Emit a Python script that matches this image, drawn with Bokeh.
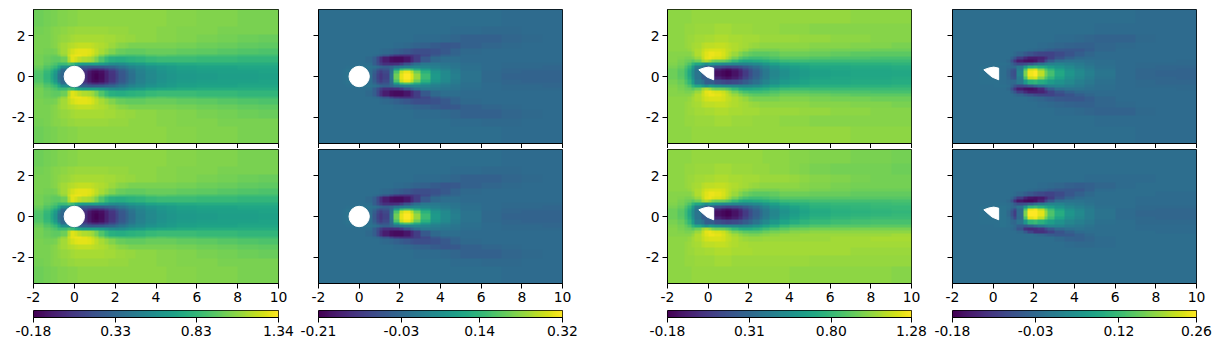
from bokeh.embed import file_html
from bokeh.resources import INLINE
from bokeh.plotting import figure
from bokeh.layouts import column, row
from bokeh.models import Range1d, FixedTicker, LinearColorMapper
from bokeh.palettes import Viridis256
import numpy as np

x_edges = [-2,-1.5,-1.2,-1,-.8,-.6,-.4,-.2,0,.2,.4,.6,.8,1,1.25,1.5,1.75,2,2.25,2.5,2.75,3,3.5,4,4.5,5,6,7,8,9,10]
y_edges = [0,.15,.3,.45,.6,.75,.9,1.1,1.3,1.6,2,2.5,3.6]

# Values, as percent of each colour bar's span; rows go outward from the wake axis.
u_cylinder = [
[72,66,60,52,38,33,30,30,30,30,12,6,2,0,3,9,15,21,27,32,37,43,47,50,52,54,55,56,56,57],
[73,67,62,55,42,34,30,30,30,30,13,7,3,2,4,10,16,22,28,33,38,44,48,51,53,55,56,57,57,58],
[75,70,66,60,50,36,30,30,30,30,20,15,12,11,13,17,22,27,32,36,40,45,49,52,54,56,57,57,58,58],
[77,73,70,67,60,50,48,42,38,32,30,28,27,28,29,31,33,36,39,42,45,48,51,53,55,57,58,58,59,59],
[79,76,74,72,68,68,72,68,62,58,56,56,57,57,55,52,49,48,49,51,53,55,58,59,60,61,62,62,62,62],
[79,77,76,75,75,78,88,95,93,90,88,87,85,80,73,67,63,62,62,63,64,65,67,68,68,68,67,67,66,66],
[79,78,77,77,80,84,92,96,97,97,96,94,91,87,81,76,73,72,71,70,70,71,73,74,73,72,71,70,69,69],
[80,79,79,80,83,86,90,93,95,96,96,95,93,90,87,84,81,78,77,76,76,76,77,77,77,76,75,74,73,72],
[80,80,81,82,84,86,88,89,90,91,91,91,90,89,88,87,85,83,82,81,80,80,80,80,80,79,78,77,76,75],
[80,80,81,82,83,84,85,86,87,87,87,87,87,87,87,86,86,85,85,84,84,83,83,82,82,81,80,79,78,77],
[79,80,81,82,82,83,84,84,85,85,85,85,85,85,85,85,84,84,84,84,83,83,83,82,82,81,81,80,80,80],
[78,79,80,80,81,81,82,82,82,83,83,83,83,83,83,83,83,83,83,83,83,83,83,83,82,82,81,81,80,80],
]
v_cylinder = [
[36,36,36,36,37,38,38,38,38,38,36,28,20,16,20,38,78,96,100,95,84,68,54,48,43,38,34,32,32,32],
[36,36,36,36,37,38,38,38,38,38,36,30,22,18,22,36,72,92,97,90,78,64,52,47,42,38,34,33,32,32],
[36,36,36,36,37,38,38,38,38,38,37,33,27,24,26,35,55,68,72,68,62,55,48,44,41,37,35,33,33,33],
[36,36,36,36,36,37,37,38,38,38,38,37,35,32,30,33,38,42,44,45,46,45,43,41,39,37,35,34,34,33],
[36,36,36,36,36,36,36,36,36,36,36,30,24,18,14,13,14,18,25,32,36,40,40,39,38,36,35,34,34,34],
[36,36,36,36,36,36,36,36,36,36,34,30,22,14,8,4,3,3,6,12,18,28,34,36,36,35,35,35,35,35],
[36,36,36,36,36,36,36,36,36,36,36,35,33,30,26,20,16,14,14,15,18,22,28,32,33,35,35,35,35,35],
[36,36,36,36,36,36,36,36,36,36,36,36,36,35,34,33,31,29,27,25,24,24,25,28,32,34,35,35,35,35],
[36,36,36,36,36,36,36,36,36,36,36,36,36,36,36,36,35,35,34,33,32,31,29,27,28,31,33,34,35,35],
[36,36,36,36,36,36,36,36,36,36,36,36,36,36,36,36,36,36,36,36,35,35,35,34,33,31,31,33,34,35],
[36,36,36,36,36,36,36,36,36,36,36,36,36,36,36,36,36,36,36,36,36,36,36,36,35,35,34,34,35,35],
[36,36,36,36,36,36,36,36,36,36,36,36,36,36,36,36,36,36,36,36,36,36,36,36,36,36,36,35,35,35],
]
u_wedge_top = [
[78,74,68,60,48,38,30,30,30,20,4,2,0,1,5,10,17,24,30,35,40,46,50,53,55,57,58,59,59,60],
[78,75,69,62,50,38,30,30,30,22,9,6,4,5,8,13,20,26,32,37,41,47,51,54,56,58,59,60,60,61],
[80,77,72,66,55,42,38,30,30,30,24,22,20,21,22,25,29,33,37,41,45,50,54,56,58,60,60,61,61,62],
[81,79,76,72,65,60,55,50,55,52,50,48,47,47,46,45,45,46,48,50,53,57,60,61,62,63,63,64,64,65],
[82,80,78,77,75,78,85,88,85,80,78,77,75,72,67,62,60,60,61,62,63,66,68,69,69,68,68,68,68,68],
[82,81,80,80,81,85,91,96,97,95,94,92,88,84,79,74,71,69,69,69,70,72,74,74,74,73,72,72,71,71],
[82,82,82,82,84,88,92,95,97,97,96,94,91,88,85,81,78,76,75,75,75,76,78,78,78,77,76,75,75,75],
[83,83,83,84,86,88,91,93,94,94,94,93,91,90,88,86,84,81,80,80,80,80,81,81,81,80,79,79,78,78],
[83,83,84,85,86,87,89,90,90,90,91,91,90,89,88,87,86,85,84,83,83,83,83,83,83,82,82,81,81,80],
[83,83,84,85,85,86,86,87,87,87,88,88,88,87,87,87,86,86,86,85,85,85,85,85,84,84,83,83,82,82],
[83,83,84,84,84,85,85,85,85,85,86,86,86,86,85,85,85,85,84,84,84,84,83,83,83,82,82,82,82,82],
[83,83,83,83,84,84,84,84,84,84,84,84,84,84,84,84,84,84,84,84,84,84,84,84,84,84,84,83,83,83],
]
v_wedge_top = [
[36,36,36,36,36,37,37,37,37,37,36,32,26,24,45,80,98,100,90,78,70,60,52,47,43,39,35,33,32,32],
[36,36,36,36,36,37,37,37,37,37,36,33,28,26,42,72,92,94,82,72,65,57,50,46,42,38,35,33,33,32],
[36,36,36,36,36,37,37,37,37,37,36,35,34,34,40,54,64,66,62,59,55,51,47,43,40,37,35,34,33,33],
[36,36,36,36,36,36,36,36,37,37,37,36,32,26,22,24,28,34,38,42,44,45,43,41,38,36,35,34,34,34],
[36,36,36,36,36,36,36,36,36,36,36,34,25,16,8,5,4,6,12,22,30,36,38,38,37,36,35,35,35,34],
[36,36,36,36,36,36,36,36,36,36,36,36,32,26,18,12,8,8,10,14,20,26,31,34,35,35,35,35,35,35],
[36,36,36,36,36,36,36,36,36,36,36,36,36,34,32,28,25,22,21,20,20,23,26,30,33,35,35,35,35,35],
[36,36,36,36,36,36,36,36,36,36,36,36,36,36,36,36,35,34,33,31,30,28,27,27,30,33,35,35,35,35],
[36,36,36,36,36,36,36,36,36,36,36,36,36,36,36,36,36,36,35,35,34,33,32,31,31,33,34,35,35,35],
[36,36,36,36,36,36,36,36,36,36,36,36,36,36,36,36,36,36,36,36,36,35,35,34,33,32,32,34,35,35],
[36,36,36,36,36,36,36,36,36,36,36,36,36,36,36,36,36,36,36,36,36,36,36,36,36,35,35,35,35,35],
[36,36,36,36,36,36,36,36,36,36,36,36,36,36,36,36,36,36,36,36,36,36,36,36,36,36,36,35,35,35],
]
u_wedge_bottom_upper = [
[78,74,68,60,48,38,30,30,30,20,4,2,0,1,5,10,17,24,30,35,40,46,51,55,58,61,63,64,65,66],
[78,75,69,62,50,38,30,30,30,22,9,6,4,5,8,13,20,26,32,37,41,47,52,56,59,62,64,65,66,67],
[80,77,72,66,55,42,38,30,30,30,24,22,20,21,22,25,29,33,37,41,45,51,55,58,61,64,65,66,67,67],
[81,79,76,72,65,60,55,50,55,52,50,48,47,47,46,45,45,46,48,50,53,57,61,63,64,66,67,67,68,69],
[82,80,78,77,75,78,85,88,85,80,78,77,75,72,67,62,60,60,61,62,63,66,68,69,69,70,70,70,70,71],
[82,81,80,80,81,85,91,96,97,95,94,92,88,84,79,74,71,69,69,69,70,72,74,74,74,74,74,74,74,74],
[82,82,82,82,84,88,92,95,97,97,96,94,91,88,85,81,78,76,75,75,75,76,78,78,78,77,77,76,76,76],
[83,83,83,84,86,88,91,93,94,94,94,93,91,89,87,85,83,81,80,80,80,80,81,81,81,80,79,78,78,78],
[83,83,84,85,86,87,89,90,90,90,91,91,90,89,88,87,86,85,84,83,83,83,83,83,82,81,80,79,79,79],
[83,83,84,85,85,86,86,87,87,87,88,88,88,87,87,87,86,86,86,85,85,85,85,84,83,82,81,80,79,79],
[83,83,84,84,84,85,85,85,85,85,86,86,86,86,85,85,85,85,84,84,84,83,83,82,81,80,79,79,79,78],
[83,83,83,83,84,84,84,84,84,84,84,84,84,84,84,84,84,84,84,84,83,83,83,82,82,81,81,80,80,79],
]
u_wedge_bottom_lower = [
[78,74,68,60,48,38,30,30,30,20,4,2,0,1,5,10,17,24,30,35,40,46,52,56,59,62,64,65,66,67],
[78,75,69,62,50,38,30,30,30,22,9,6,4,5,8,13,20,26,32,37,42,48,54,58,61,64,66,67,68,68],
[80,77,72,66,55,42,38,30,30,30,24,22,20,21,22,25,29,33,38,43,47,53,58,62,65,67,69,70,71,71],
[81,79,76,72,65,60,55,50,55,52,50,48,47,47,46,45,46,48,51,54,58,62,67,70,71,73,74,74,75,75],
[82,80,78,77,75,78,85,88,85,80,78,77,75,72,67,63,62,62,64,66,69,72,75,77,78,79,79,80,80,80],
[82,81,80,80,81,85,91,96,97,95,94,92,88,84,80,77,75,74,74,75,77,79,80,82,82,83,83,83,83,83],
[82,82,82,82,84,88,92,95,97,97,96,94,91,89,86,83,81,80,80,81,82,83,84,84,85,85,85,85,85,86],
[83,83,83,84,86,88,91,93,94,94,94,93,91,90,88,86,85,84,84,84,85,85,85,85,85,85,86,86,87,87],
[83,83,84,85,86,87,89,90,90,90,91,91,90,89,88,87,87,86,86,86,86,86,86,86,86,86,86,86,86,86],
[83,83,84,85,85,86,86,87,87,87,88,88,88,88,87,87,87,87,86,86,86,86,86,86,86,86,86,85,85,85],
[83,83,84,84,84,85,85,85,85,85,86,86,86,86,85,85,85,85,85,85,85,85,85,85,85,84,84,84,84,84],
[83,83,83,83,84,84,84,84,84,84,84,84,84,84,84,84,84,84,84,84,84,84,84,83,83,83,83,83,83,82],
]
v_wedge_bottom_upper = [
[36,36,36,36,36,37,37,37,37,37,38,34,26,18,35,80,100,100,96,84,72,62,52,47,42,38,35,33,33,33],
[36,36,36,36,36,37,37,37,37,37,38,36,30,22,34,72,96,98,90,78,68,58,50,46,42,38,35,34,33,33],
[36,36,36,36,36,37,37,37,37,37,38,37,34,33,38,52,66,68,64,60,56,51,46,43,40,37,36,34,34,34],
[36,36,36,36,36,36,36,36,37,37,37,36,34,28,24,25,30,36,40,43,45,45,42,40,38,36,36,35,35,35],
[36,36,36,36,36,36,36,36,36,36,36,34,26,14,6,3,2,4,10,20,28,36,38,38,37,36,36,35,35,35],
[36,36,36,36,36,36,36,36,36,36,36,36,33,26,18,10,6,5,7,12,18,26,32,35,36,36,36,35,35,35],
[36,36,36,36,36,36,36,36,36,36,36,36,36,35,33,30,27,24,22,20,20,23,27,31,34,36,36,36,35,35],
[36,36,36,36,36,36,36,36,36,36,36,36,36,36,36,36,35,34,33,32,30,28,27,27,31,35,36,36,36,36],
[36,36,36,36,36,36,36,36,36,36,36,36,36,36,36,36,36,36,35,35,34,33,31,30,31,33,35,36,36,36],
[36,36,36,36,36,36,36,36,36,36,36,36,36,36,36,36,36,36,36,36,36,36,36,36,35,35,35,35,36,36],
[36,36,36,36,36,36,36,36,36,36,36,36,36,36,36,36,36,36,36,36,36,36,36,36,36,36,36,36,36,36],
[36,36,36,36,36,36,36,36,36,36,36,36,36,36,36,36,36,36,36,36,36,36,36,36,36,36,36,36,36,36],
]
v_wedge_bottom_lower = [
[36,36,36,36,36,37,37,37,37,37,38,34,26,18,35,80,100,100,96,84,72,62,52,47,42,38,35,33,33,33],
[36,36,36,36,36,37,37,37,37,37,38,36,30,22,34,72,96,98,90,78,68,58,50,46,42,38,35,34,33,33],
[36,36,36,36,36,37,37,37,37,37,38,37,34,33,38,52,66,68,64,60,56,51,46,43,40,37,36,34,34,34],
[36,36,36,36,36,36,36,36,37,37,38,37,36,34,30,28,32,37,41,44,46,45,42,40,38,36,36,35,35,35],
[36,36,36,36,36,36,36,36,36,36,36,36,35,33,26,14,12,13,16,22,28,34,37,38,37,36,36,35,35,35],
[36,36,36,36,36,36,36,36,36,36,36,36,36,36,34,28,20,14,14,16,20,26,31,35,36,36,36,36,35,35],
[36,36,36,36,36,36,36,36,36,36,36,36,36,36,36,36,36,35,33,31,29,27,28,31,34,36,36,36,36,36],
[36,36,36,36,36,36,36,36,36,36,36,36,36,36,36,36,36,36,36,36,36,34,32,31,33,35,36,36,36,36],
[36,36,36,36,36,36,36,36,36,36,36,36,36,36,36,36,36,36,36,36,36,36,35,34,34,35,36,36,36,36],
[36,36,36,36,36,36,36,36,36,36,36,36,36,36,36,36,36,36,36,36,36,36,36,36,36,36,36,36,36,36],
[36,36,36,36,36,36,36,36,36,36,36,36,36,36,36,36,36,36,36,36,36,36,36,36,36,36,36,36,36,36],
[36,36,36,36,36,36,36,36,36,36,36,36,36,36,36,36,36,36,36,36,36,36,36,36,36,36,36,36,36,36],
]
bar_ticks = [[-0.18,0.33,0.83,1.34],[-0.21,-0.03,0.14,0.32],[-0.18,0.31,0.80,1.28],[-0.18,-0.03,0.12,0.26]]
bar_labels = [["-0.18","0.33","0.83","1.34"],["-0.21","-0.03","0.14","0.32"],["-0.18","0.31","0.80","1.28"],["-0.18","-0.03","0.12","0.26"]]
wedge_x = [-.46,-.2,.03,.27,.27,-.05,-.25]
wedge_y = [.33,.42,.46,.41,-.16,-.03,.14]
x_ticks = [-2,0,2,4,6,8,10]
y_ticks = [-2,0,2]
FONT = "DejaVu Sans"
SIZE = "13.9px"
LEFT = [33,20,84,21]
FRAME = [245,244,244,244]
RIGHT = [20,21,20,19]
YLOW, YHIGH = -3.28, 3.28
NX, NY = 72, 48

def style_axis(ax, ticks, labels):
    ax.ticker = FixedTicker(ticks=ticks)
    ax.major_label_overrides = {t: l for t, l in zip(ticks, labels)}
    ax.major_tick_in = 0
    ax.major_tick_out = 5
    ax.major_tick_line_color = "black"
    ax.major_tick_line_width = 1
    ax.minor_tick_line_color = None
    ax.axis_line_color = "black"
    ax.axis_line_width = 1
    ax.major_label_text_font = FONT
    ax.major_label_text_font_size = SIZE
    ax.major_label_text_color = "black"
    ax.major_label_standoff = 3

def sample(upper, lower, y0, low, high):
    up, lo = np.array(upper, float), np.array(lower, float)
    arr = np.zeros((NY, NX))
    xs = -2 + (np.arange(NX) + .5) * 12 / NX
    ys = YLOW + (np.arange(NY) + .5) * (YHIGH - YLOW) / NY
    for i, y in enumerate(ys):
        table = up if y >= y0 else lo
        ri = min(np.searchsorted(y_edges, abs(y - y0), side="right") - 1, table.shape[0] - 1)
        for j, x in enumerate(xs):
            cj = min(np.searchsorted(x_edges, x, side="right") - 1, table.shape[1] - 1)
            arr[i, j] = low + table[ri, cj] / 100 * (high - low)
    return arr

def panel(c, r, upper, lower, y0):
    h = 134
    top_border = 9 if r == 0 else 1
    bottom_border = 5 if r == 0 else 22
    p = figure(width=LEFT[c]+FRAME[c]+RIGHT[c], height=top_border+h+bottom_border,
               x_range=Range1d(-2,10), y_range=Range1d(YLOW, YHIGH),
               toolbar_location=None, output_backend="svg",
               min_border_left=LEFT[c], min_border_right=RIGHT[c], min_border_top=top_border,
               min_border_bottom=bottom_border)
    low, high = bar_ticks[c][0], bar_ticks[c][-1]
    arr = sample(upper, lower, y0, low, high)
    p.image(image=[arr], x=-2, y=YLOW, dw=12, dh=YHIGH-YLOW,
            color_mapper=LinearColorMapper(palette=Viridis256, low=low, high=high))
    if c < 2:
        p.ellipse(x=[0], y=[0], width=[1.0], height=[1.0], fill_color="white", line_color="white")
    else:
        p.patch(wedge_x, wedge_y, fill_color="white", line_color="white")
    p.grid.visible = False
    p.outline_line_color = "black"
    p.outline_line_width = 1
    style_axis(p.xaxis[0], x_ticks, [str(t) if r == 1 else "" for t in x_ticks])
    style_axis(p.yaxis[0], y_ticks, [str(t) if c in (0,2) else "" for t in y_ticks])
    if r == 0:
        p.xaxis[0].major_label_standoff = 0
    if c in (1,3):
        p.yaxis[0].major_label_standoff = 0
    return p

def colorbar(c):
    low, high = bar_ticks[c][0], bar_ticks[c][-1]
    p = figure(width=LEFT[c]+FRAME[c]+RIGHT[c], height=5+7+24,
               x_range=Range1d(low, high), y_range=Range1d(0,1),
               toolbar_location=None, output_backend="svg",
               min_border_left=LEFT[c], min_border_right=RIGHT[c], min_border_top=5, min_border_bottom=24)
    vals = np.linspace(low, high, 256).reshape(1, 256)
    p.image(image=[vals], x=low, y=0, dw=high-low, dh=1,
            color_mapper=LinearColorMapper(palette=Viridis256, low=low, high=high))
    p.grid.visible = False
    p.yaxis.visible = False
    p.outline_line_color = "black"
    style_axis(p.xaxis[0], bar_ticks[c], bar_labels[c])
    return p

rows_top = [(u_cylinder,u_cylinder,0.0),(v_cylinder,v_cylinder,0.0),(u_wedge_top,u_wedge_top,0.1),(v_wedge_top,v_wedge_top,0.1)]
rows_bot = [(u_cylinder,u_cylinder,0.0),(v_cylinder,v_cylinder,0.0),(u_wedge_bottom_upper,u_wedge_bottom_lower,0.1),(v_wedge_bottom_upper,v_wedge_bottom_lower,0.1)]
top = row(*[panel(c, 0, *rows_top[c]) for c in range(4)], spacing=0)
mid = row(*[panel(c, 1, *rows_bot[c]) for c in range(4)], spacing=0)
bars = row(*[colorbar(c) for c in range(4)], spacing=0)
page = column(top, mid, bars, spacing=0)
open("out.html", "w").write(file_html(page, INLINE))
